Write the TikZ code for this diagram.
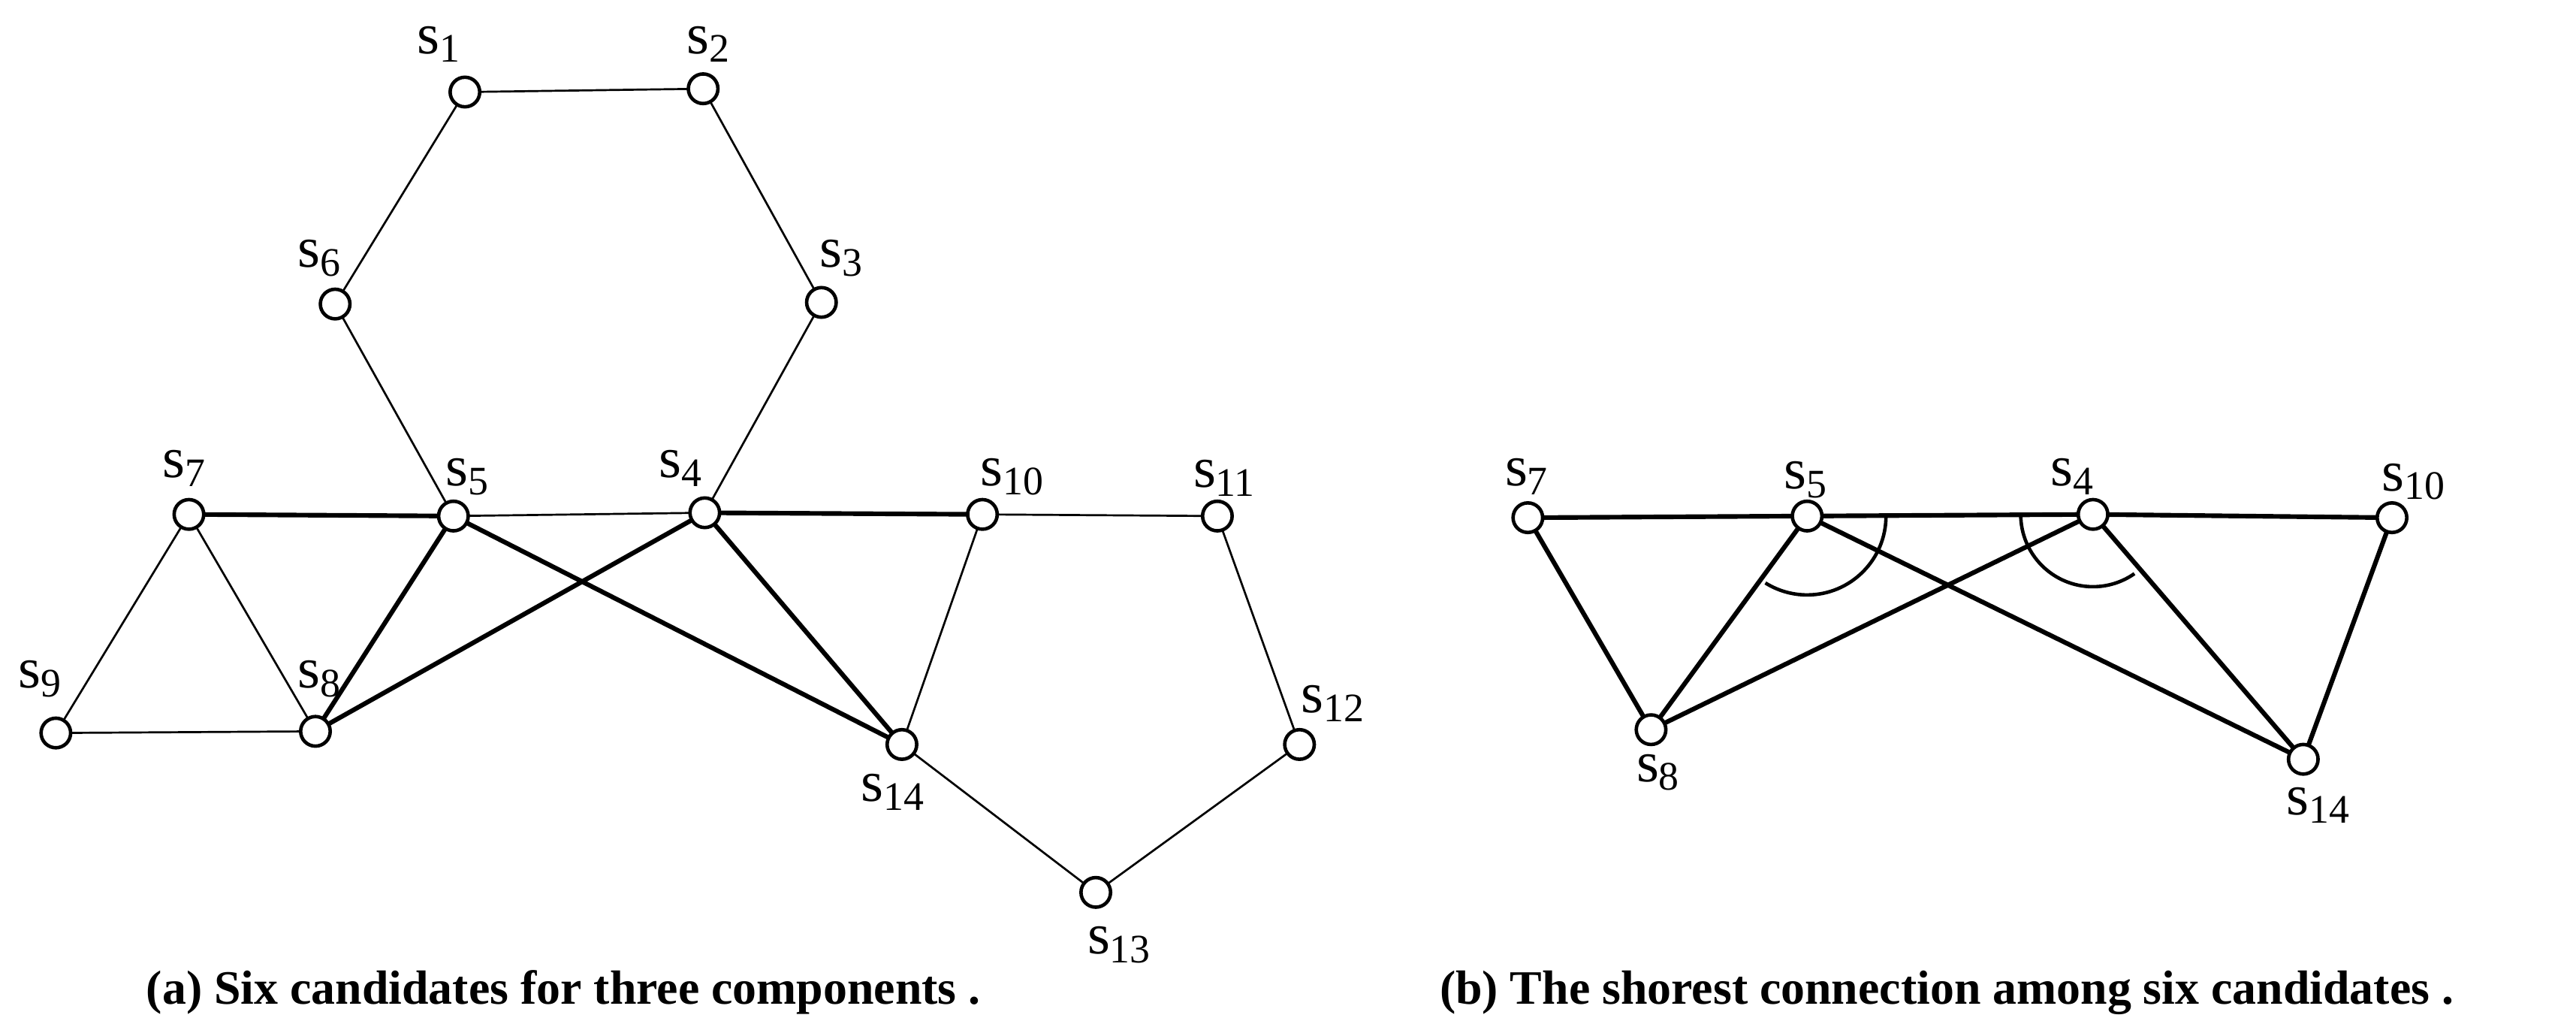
\documentclass[tikz,border=0pt]{standalone}
\usepackage{fontspec}
\setmainfont{Liberation Serif}
\begin{document}
\begin{tikzpicture}[x=0.01cm,y=-0.01cm,
  v/.style={circle,draw,line width=0.6pt,fill=white,minimum size=0.18cm,inner sep=0pt},
  thinl/.style={line width=0.35pt},
  thickl/.style={line width=0.8pt},
  lab/.style={font=\fontsize{10}{12}\selectfont,inner sep=0pt},
  capt/.style={font=\bfseries\fontsize{8.3}{10}\selectfont}]
\useasboundingbox (0,0) rectangle (1568,621);
% (a)
\foreach \n/\x/\y in {1/283/56,2/428/54,3/500/184,4/429/312,5/276/314,6/204/185,7/115/313,8/192/445,9/34/446,10/598/313,11/741/314,12/791/453,13/667/543,14/549/453}
  \coordinate (a\n) at (\x,\y);
\draw[thinl] (a1)--(a2)--(a3)--(a4)--(a5)--(a6)--(a1);
\draw[thinl] (a7)--(a8) (a7)--(a9)--(a8) (a10)--(a14) (a10)--(a11)--(a12)--(a13)--(a14);
\draw[thickl] (a7)--(a5)--(a8)--(a4)--(a14)--(a5) (a4)--(a10);
\foreach \n in {1,...,14} \node[v] (na\n) at (a\n) {};
\foreach \n/\x/\y in {1/268/27,2/432/27,3/513/157,6/195/157,7/113/285,5/285/290,4/415/285,10/617/290,11/746/291,9/25/413,8/195/413,12/812/428,14/544/482,13/682/575}
  \node[lab] (la\n) at (\x,\y) {s\textsubscript{\n}};
% (b)
\foreach \n/\x/\y in {7/930/315,5/1100/314,4/1274/313,10/1456/315,8/1005/444,14/1402/462}
  \coordinate (b\n) at (\x,\y);
\draw[thickl] (b7)--(b5)--(b4)--(b10)--(b14)--(b4)--(b8)--(b7) (b5)--(b8) (b5)--(b14);
\draw[line width=0.6pt] ([shift={(0:48)}]b5) arc[start angle=0,end angle=122,radius=48];
\draw[line width=0.6pt] ([shift={(180:44)}]b4) arc[start angle=180,end angle=55,radius=44];
\foreach \n in {7,5,4,10,8,14} \node[v] (nb\n) at (b\n) {};
\foreach \n/\x/\y in {7/930/290,5/1100/292,4/1262/290,10/1470/293,8/1010/470,14/1412/490}
  \node[lab] (lb\n) at (\x,\y) {s\textsubscript{\n}};
\node[capt] (ca) at (343,604) {(a) Six candidates for three components .};
\node[capt] (cb) at (1185,604) {(b) The shorest connection among six candidates .};
\end{tikzpicture}
\end{document}
